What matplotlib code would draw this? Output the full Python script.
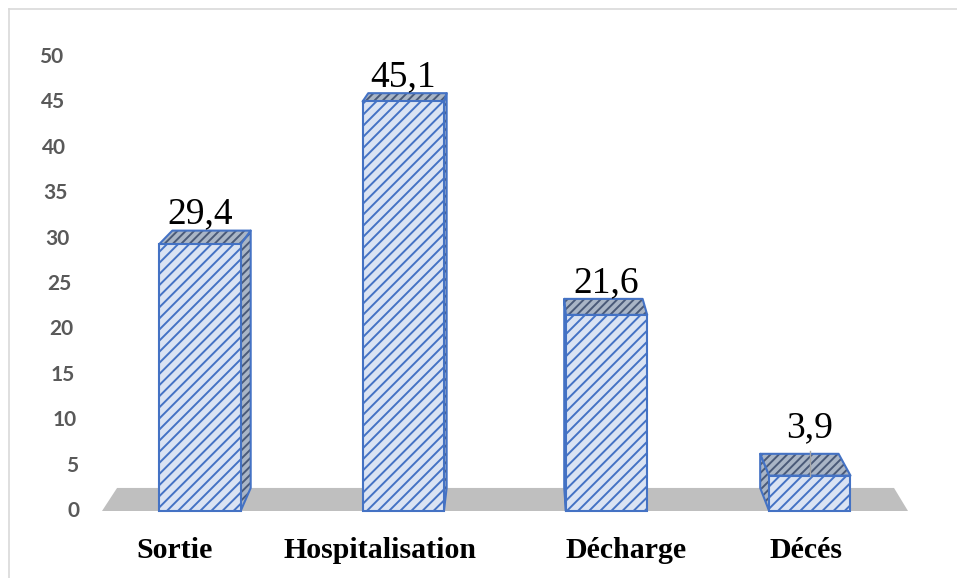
import matplotlib.pyplot as plt
from matplotlib.patches import Polygon
import matplotlib.transforms as mtransforms

# ====== DATA ======
categories = ["Sortie", "Hospitalisation", "Décharge", "Décés"]
values = [29.4, 45.1, 21.6, 3.9]
value_labels = ["29,4", "45,1", "21,6", "3,9"]
yticks = [0, 5, 10, 15, 20, 25, 30, 35, 40, 45, 50]
# ==================

# look / layout
W, H, DPI = 9.57, 5.78, 100
bar_w = 0.4
vp = (1.574, 70.5)   # vanishing point (data units) for the fake 3D depth
depth = 0.036
edge = "#4472c4"
front_fc = "#dae3f3"
shade_fc = "#a9b5c6"
shade_hatch = "#4a5a78"
label_nudge = [-25, -23, 20, -4]   # px, category label shift
value_lift = [7, 7, 7, 17]         # px from back edge of top face to baseline

plt.rcParams['hatch.linewidth'] = 1.4

fig = plt.figure(figsize=(W, H), dpi=DPI)
ax = fig.add_axes([102 / 957, (578 - 511) / 578, (908 - 102) / 957, (511 - 57) / 578])
ax.set_xlim(-0.482, 3.483)
ax.set_ylim(0, 50)
ax.axis("off")


def back(x, y):
    return (x + (vp[0] - x) * depth, y + (vp[1] - y) * depth)


def shaded_face(pts, z):
    # fill, then dark hatch, then blue outline
    ax.add_patch(Polygon(pts, closed=True, fc=shade_fc, ec="none", zorder=z, clip_on=False))
    ax.add_patch(Polygon(pts, closed=True, fc="none", ec=shade_hatch, lw=0, hatch="////",
                         zorder=z, clip_on=False))
    ax.add_patch(Polygon(pts, closed=True, fc="none", ec=edge, lw=1.5, zorder=z,
                         clip_on=False, joinstyle="round"))


# floor
x0, x1 = ax.get_xlim()
floor = [(x0, 0), (x1, 0), back(x1, 0), back(x0, 0)]
ax.add_patch(Polygon(floor, closed=True, fc="#bfbfbf", ec="none", zorder=1, clip_on=False))

for i, v in enumerate(values):
    l, r = i - bar_w / 2, i + bar_w / 2
    sx = r if back(r, 0)[0] > r else l
    shaded_face([(sx, 0), (sx, v), back(sx, v), back(sx, 0)], 2)
    shaded_face([(l, v), (r, v), back(r, v), back(l, v)], 3)

# front faces
ax.bar(range(len(values)), values, width=bar_w, color=front_fc, edgecolor=edge,
       linewidth=1.5, hatch="///", zorder=4, clip_on=False)

# value labels
for i, v in enumerate(values):
    bx, by = back(i, v)
    tr = mtransforms.offset_copy(ax.transData, fig=fig, x=0, y=value_lift[i], units="dots")
    ax.text(i, by, value_labels[i], transform=tr, ha="center", va="baseline",
            family="Liberation Serif", fontsize=27, color="black", zorder=6)
    if value_lift[i] > 10:
        ax.plot([i, i], [v, by + 0.3], color="#a6a6a6", lw=1, zorder=5, clip_on=False)

# category labels
for i, c in enumerate(categories):
    tr = mtransforms.offset_copy(ax.transData, fig=fig, x=label_nudge[i], y=-47, units="dots")
    ax.text(i, 0, c, transform=tr, ha="center", va="baseline", family="Liberation Serif",
            fontweight="bold", fontsize=21.5, color="black")

# y tick labels, leaning with the perspective
for t in yticks:
    tr = mtransforms.offset_copy(ax.transData, fig=fig, x=-(22 + 0.34 * t), y=0, units="dots")
    ax.text(x0, t, str(t), transform=tr, ha="right", va="center", family="Lato",
            fontweight="bold", fontsize=15, color="#595959")

# chart frame (left + top)
fig.add_artist(plt.Line2D([9 / 957, 9 / 957], [0, 1 - 9 / 578], color="#d9d9d9", lw=1.2))
fig.add_artist(plt.Line2D([9 / 957, 1], [1 - 9 / 578, 1 - 9 / 578], color="#d9d9d9", lw=1.2))

fig.savefig("out.png", dpi=DPI)
